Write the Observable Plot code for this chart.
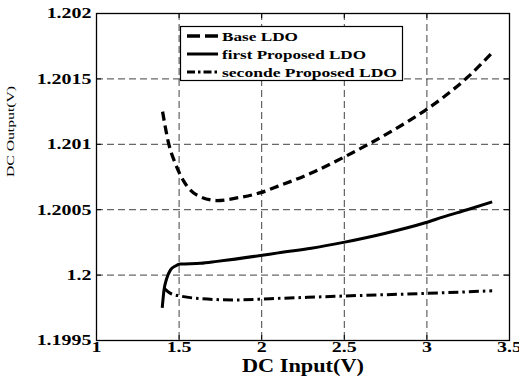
<!DOCTYPE html>
<html>
<head>
<meta charset="utf-8">
<script src="https://cdn.jsdelivr.net/npm/d3@7"></script>
<script src="https://cdn.jsdelivr.net/npm/@observablehq/plot@0.6"></script>
<style>
  html, body { margin: 0; padding: 0; background: white; }
  #wrap { position: relative; width: 519px; height: 383px; overflow: hidden; }
  #legend { position: absolute; left: 0; top: 0; pointer-events: none; }
</style>
</head>
<body>
<div id="wrap"></div>
<script>
// ---- data ----
const xTicks = [1, 1.5, 2, 2.5, 3, 3.5];
const xTickLabels = ["1", "1.5", "2", "2.5", "3", "3.5"];
const yTicks = [1.1995, 1.2, 1.2005, 1.201, 1.2015, 1.202];
const yTickLabels = ["1.1995", "1.2", "1.2005", "1.201", "1.2015", "1.202"];
const seriesNames = ["Base LDO", "first Proposed LDO", "seconde Proposed LDO"];
const xLabel = "DC Input(V)";
const yLabel = "DC Output(V)";

const baseX = [1.4, 1.436, 1.478, 1.527, 1.61, 1.73, 1.85, 1.993, 2.1, 2.3, 2.495, 2.66, 2.8, 2.99, 3.1, 3.244, 3.395];
const baseY = [1.20125, 1.20101, 1.20085, 1.20072, 1.20061, 1.20057, 1.20059, 1.20063, 1.20068, 1.20078, 1.2009, 1.20101, 1.20111, 1.20126, 1.20136, 1.20151, 1.2017];

const firstX = [1.398, 1.408, 1.424, 1.448, 1.478, 1.508, 1.63, 1.73, 1.993, 2.1, 2.3, 2.495, 2.75, 2.99, 3.1, 3.244, 3.395];
const firstY = [1.19975, 1.19988, 1.19997, 1.20004, 1.20007, 1.200085, 1.20009, 1.200105, 1.20015, 1.20017, 1.200205, 1.20025, 1.20032, 1.2004, 1.200445, 1.2005, 1.20056];

const secondX = [1.408, 1.448, 1.508, 1.63, 1.83, 2.053, 2.495, 2.99, 3.395];
const secondY = [1.1999, 1.19986, 1.19984, 1.19982, 1.19981, 1.19982, 1.19984, 1.19986, 1.19988];

const dashes = ["9,5", null, "10,4,2.5,4"];
const widths = [3.3, 3, 3];

// ---- build table ----
const rows = [];
baseX.forEach((x, i) => rows.push({x, y: baseY[i], s: seriesNames[0]}));
firstX.forEach((x, i) => rows.push({x, y: firstY[i], s: seriesNames[1]}));
secondX.forEach((x, i) => rows.push({x, y: secondY[i], s: seriesNames[2]}));

const gridStyle = {stroke: "#111", strokeOpacity: 1, strokeWidth: 0.8};
const serif = "'Liberation Serif', 'Times New Roman', serif";

const chart = Plot.plot({
  width: 519,
  height: 383,
  marginLeft: 96,
  marginRight: 10,
  marginTop: 13,
  marginBottom: 43,
  style: {fontFamily: serif, background: "white", color: "black"},
  x: {domain: [1, 3.5]},
  y: {domain: [1.1995, 1.202]},
  marks: [
    Plot.gridX(xTicks, {...gridStyle, strokeDasharray: "7,4"}),
    Plot.gridY(yTicks, {...gridStyle, strokeDasharray: "7,4"}),
    Plot.tickX(xTicks, {x: d => d, stroke: "black", strokeWidth: 1, insetTop: 322}),
    Plot.tickX(xTicks, {x: d => d, stroke: "black", strokeWidth: 1, insetBottom: 322}),
    Plot.tickY(yTicks, {y: d => d, stroke: "black", strokeWidth: 1, insetRight: 408}),
    Plot.tickY(yTicks, {y: d => d, stroke: "black", strokeWidth: 1, insetLeft: 408}),
    Plot.axisX(xTicks, {tickSize: 0, tickPadding: 1, fontSize: 15, fontWeight: "bold", label: null,
      tickFormat: d => xTickLabels[xTicks.indexOf(d)]}),
    Plot.axisY(yTicks, {tickSize: 0, tickPadding: 5, fontSize: 15, fontWeight: "bold", label: null,
      tickFormat: d => yTickLabels[yTicks.indexOf(d)]}),
    ...seriesNames.map((name, k) =>
      Plot.line(rows.filter(r => r.s === name), {
        x: "x", y: "y", curve: "monotone-x", stroke: "black",
        strokeWidth: widths[k], strokeDasharray: dashes[k] || undefined,
        strokeLinecap: "butt", strokeLinejoin: "round"
      })),
    Plot.frame({stroke: "black", strokeWidth: 1.3}),
    Plot.text([xLabel], {text: d => d, frameAnchor: "bottom", dy: 31, fontSize: 18, fontWeight: "bold"}),
    Plot.text([yLabel], {text: d => d, frameAnchor: "left", dx: -86, rotate: -90, fontSize: 11})
  ]
});

const wrap = document.getElementById("wrap");
wrap.appendChild(chart);

// ---- legend overlay ----
const leg = d3.select(wrap).append("svg")
  .attr("id", "legend").attr("width", 519).attr("height", 383);
leg.append("rect").attr("x", 180.5).attr("y", 26.5).attr("width", 222).attr("height", 54)
  .attr("fill", "white").attr("stroke", "black").attr("stroke-width", 1.2);
const rowsY = [36, 54, 72];
const legTargets = [76, 144, 175];
seriesNames.forEach((name, k) => {
  leg.append("line").attr("x1", 187).attr("x2", 218).attr("y1", rowsY[k]).attr("y2", rowsY[k])
    .attr("stroke", "black").attr("stroke-width", widths[k])
    .attr("stroke-dasharray", dashes[k] ? (k === 0 ? "13,5" : "8,3,2.5,3") : null);
  leg.append("text").attr("x", 222).attr("y", rowsY[k] + 4.5)
    .attr("font-family", serif).attr("font-weight", "bold").attr("font-size", 13.5)
    .attr("data-target", legTargets[k]).text(name);
});

// ---- widen text to match the reference's wide glyphs ----
const targets = {"DC Input(V)": 122, "DC Output(V)": 91};
document.querySelectorAll("#wrap text").forEach(t => {
  const w = t.getComputedTextLength();
  if (!w) return;
  let target;
  if (t.hasAttribute("data-target")) target = +t.getAttribute("data-target");
  else if (targets[t.textContent] != null) target = targets[t.textContent];
  else target = w * 1.33;
  t.setAttribute("textLength", target);
  t.setAttribute("lengthAdjust", "spacingAndGlyphs");
});
</script>
</body>
</html>
